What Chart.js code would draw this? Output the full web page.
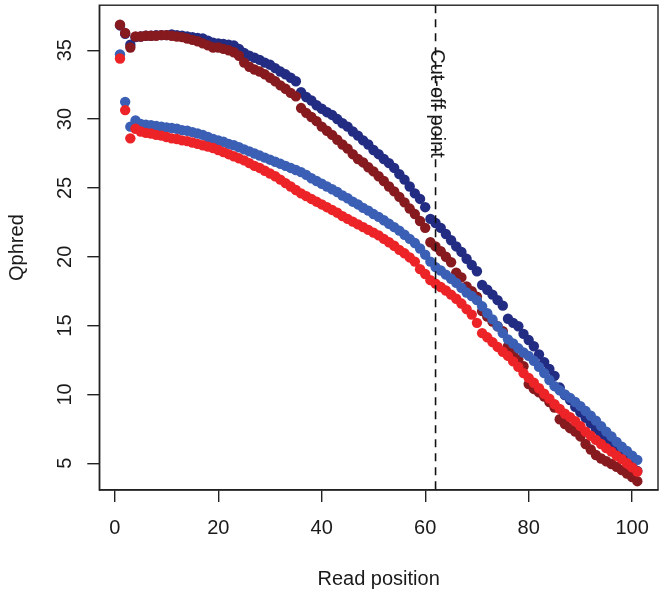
<!DOCTYPE html>
<html>
<head>
<meta charset="utf-8">
<script src="https://cdn.jsdelivr.net/npm/chart.js@4.4.1/dist/chart.umd.min.js"></script>
<style>
    body { margin: 0; background: #ffffff; overflow: hidden; }
    canvas { display: block; }
</style>
</head>
<body>
<canvas id="graficoCalidad" width="664" height="594"></canvas>
<script>
// POSICIONES DE LECTURA (EJE X)
var posiciones = [
    1, 2, 3, 4, 5, 6, 7, 8, 9, 10, 11, 12, 13, 14, 15, 16, 17, 18, 19, 20,
    21, 22, 23, 24, 25, 26, 27, 28, 29, 30, 31, 32, 33, 34, 35, 36, 37, 38, 39, 40,
    41, 42, 43, 44, 45, 46, 47, 48, 49, 50, 51, 52, 53, 54, 55, 56, 57, 58, 59, 60,
    61, 62, 63, 64, 65, 66, 67, 68, 69, 70, 71, 72, 73, 74, 75, 76, 77, 78, 79, 80,
    81, 82, 83, 84, 85, 86, 87, 88, 89, 90, 91, 92, 93, 94, 95, 96, 97, 98, 99, 100, 101
];

// SERIES (Qphred)
var azulOscuro = [
    36.8, 36.2, 35.4, 35.95, 36.0, 36.05, 36.05, 36.1, 36.1, 36.1, 36.15, 36.1, 36.05, 36.0, 35.95, 35.9, 35.85, 35.7, 35.55, 35.5,
    35.45, 35.4, 35.35, 35.1, 34.8, 34.6, 34.45, 34.3, 34.1, 33.95, 33.7, 33.45, 33.25, 33.0, 32.75, 31.95, 31.6, 31.35, 31.0, 30.75,
    30.5, 30.3, 30.0, 29.7, 29.45, 29.1, 28.8, 28.45, 28.15, 27.75, 27.45, 27.1, 26.8, 26.45, 26.0, 25.6, 25.1, 24.6, 24.2, 23.6,
    22.75, 22.45, 22.1, 21.65, 21.2, 20.75, 20.35, 19.85, 19.4, 18.95, 17.95, 17.6, 17.25, 16.85, 16.45, 15.5, 15.2, 14.95, 14.4, 13.95,
    13.5, 12.9, 12.35, 11.85, 11.35, 10.5, 9.95, 9.6, 9.1, 8.7, 8.3, 7.9, 7.5, 7.15, 6.8, 6.45, 6.05, 5.65, 5.25, 4.85, 4.45
];
var rojoOscuro = [
    36.85, 36.25, 35.2, 36.0, 36.0, 36.05, 36.05, 36.05, 36.1, 36.1, 36.05, 36.0, 35.95, 35.85, 35.75, 35.65, 35.5, 35.35, 35.2, 35.2,
    35.1, 35.0, 34.85, 34.6, 34.1, 33.8, 33.6, 33.45, 33.25, 33.0, 32.75, 32.45, 32.2, 31.9, 31.65, 30.8, 30.45, 30.15, 29.85, 29.45,
    29.15, 28.85, 28.5, 28.15, 27.85, 27.45, 27.1, 26.85, 26.5, 26.2, 25.85, 25.5, 25.1, 24.75, 24.35, 23.95, 23.5, 23.1, 22.6, 22.1,
    21.05, 20.75, 20.4, 20.0, 19.6, 18.85, 18.5, 17.85, 17.5, 17.1, 16.05, 15.65, 15.3, 14.95, 14.6, 13.5, 13.05, 12.55, 12.05, 10.75,
    10.4, 10.15, 9.85, 9.45, 9.05, 8.2, 7.85, 7.55, 7.3, 6.95, 6.4, 6.0, 5.6, 5.35, 5.15, 4.95, 4.75, 4.5, 4.25, 4.0, 3.7
];
var azul = [
    34.7, 31.25, 29.45, 29.9, 29.65, 29.6, 29.55, 29.5, 29.45, 29.4, 29.35, 29.3, 29.2, 29.15, 29.05, 28.95, 28.85, 28.7, 28.55, 28.45,
    28.35, 28.2, 28.1, 27.95, 27.8, 27.65, 27.5, 27.35, 27.2, 27.05, 26.9, 26.75, 26.6, 26.45, 26.3, 26.15, 25.95, 25.7, 25.5, 25.3,
    25.1, 24.9, 24.7, 24.45, 24.25, 24.0, 23.8, 23.55, 23.35, 23.1, 22.9, 22.65, 22.4, 22.15, 21.9, 21.6, 21.3, 21.0, 20.6, 20.15,
    19.65, 19.25, 19.0, 18.7, 18.4, 18.1, 17.75, 17.4, 17.15, 16.85, 16.4, 15.9, 15.45, 14.95, 14.45, 14.0, 13.7, 13.35, 13.05, 12.8,
    12.45, 12.0, 11.55, 11.05, 10.6, 10.3, 10.0, 9.75, 9.45, 9.15, 8.8, 8.45, 8.1, 7.7, 7.3, 6.95, 6.55, 6.2, 5.9, 5.55, 5.25
];
var rojo = [
    34.4, 30.65, 28.6, 29.3, 29.1, 29.0, 28.95, 28.85, 28.8, 28.7, 28.6, 28.55, 28.45, 28.4, 28.3, 28.2, 28.1, 28.0, 27.9, 27.75,
    27.6, 27.45, 27.3, 27.15, 27.0, 26.8, 26.6, 26.45, 26.25, 26.05, 25.85, 25.6, 25.35, 25.1, 24.85, 24.6, 24.4, 24.2, 24.0, 23.8,
    23.6, 23.4, 23.2, 22.95, 22.75, 22.55, 22.35, 22.15, 21.95, 21.75, 21.55, 21.3, 21.05, 20.8, 20.5, 20.25, 19.95, 19.65, 19.1, 18.75,
    18.3, 18.05, 17.8, 17.55, 17.25, 16.95, 16.6, 16.2, 15.8, 15.2, 14.45, 14.15, 13.8, 13.45, 13.1, 12.8, 12.4, 12.0, 11.55, 11.2,
    10.85, 10.45, 10.05, 9.7, 9.3, 8.95, 8.6, 8.35, 8.05, 7.7, 7.3, 7.0, 6.7, 6.4, 6.1, 5.85, 5.55, 5.3, 5.0, 4.7, 4.4
];

// TICKS Y PUNTO DE CORTE
var ticksX = [0, 20, 40, 60, 80, 100];
var ticksY = [5, 10, 15, 20, 25, 30, 35];
var puntoCorte = 62;

function puntos(valores) {
    return posiciones.map(function (p, i) {
        return { x: p, y: valores[i] };
    });
}

var fuente = '20px "Liberation Sans", Arial, sans-serif';
var colorTexto = '#1a1a1a';

// DIBUJAR CAJA, ETIQUETAS Y LINEA DE CORTE (ESTILO R)
var estiloR = {
    id: 'estiloR',
    afterDatasetsDraw: function (chart) {
        var c = chart.ctx;
        var area = chart.chartArea;
        var sx = chart.scales.x;

        // linea discontinua del punto de corte
        var xc = sx.getPixelForValue(puntoCorte);
        c.save();
        c.strokeStyle = '#111';
        c.lineWidth = 1.6;
        c.setLineDash([8, 6]);
        c.beginPath();
        c.moveTo(xc, area.top);
        c.lineTo(xc, area.bottom);
        c.stroke();
        c.restore();

        // texto vertical
        c.save();
        c.fillStyle = colorTexto;
        c.font = fuente;
        c.translate(xc + 1, area.top + 44);
        c.rotate(Math.PI / 2);
        c.textAlign = 'left';
        c.textBaseline = 'middle';
        c.fillText('Cut-off point', 0, 0);
        c.restore();
    },
    afterDraw: function (chart) {
        var c = chart.ctx;
        var area = chart.chartArea;
        var sx = chart.scales.x;
        var sy = chart.scales.y;

        c.save();
        c.strokeStyle = '#222';
        c.lineWidth = 1.4;
        c.strokeRect(area.left, area.top, area.right - area.left, area.bottom - area.top);

        c.fillStyle = colorTexto;
        c.font = fuente;

        // etiquetas eje X
        c.textAlign = 'center';
        c.textBaseline = 'middle';
        sx.ticks.forEach(function (t) {
            c.fillText(String(t.value), sx.getPixelForValue(t.value), 528);
        });

        // etiquetas eje Y (giradas)
        sy.ticks.forEach(function (t) {
            c.save();
            c.translate(65, sy.getPixelForValue(t.value));
            c.rotate(-Math.PI / 2);
            c.fillText(String(t.value), 0, 0);
            c.restore();
        });

        // titulos
        c.fillText('Read position', (area.left + area.right) / 2, 579);
        c.save();
        c.translate(17, (area.top + area.bottom) / 2);
        c.rotate(-Math.PI / 2);
        c.fillText('Qphred', 0, 0);
        c.restore();
        c.restore();
    }
};

var ctx = document.getElementById('graficoCalidad').getContext('2d');

var chart = new Chart(ctx, {
    type: 'scatter',
    data: {
        datasets: [{
            label: 'rojo',
            data: puntos(rojo),
            backgroundColor: '#ec2327'
        },
        {
            label: 'azul',
            data: puntos(azul),
            backgroundColor: '#3a5fb5'
        },
        {
            label: 'rojoOscuro',
            data: puntos(rojoOscuro),
            backgroundColor: '#861a1f'
        },
        {
            label: 'azulOscuro',
            data: puntos(azulOscuro),
            backgroundColor: '#232c83'
        }]
    },
    options: {
        responsive: false,
        animation: false,
        devicePixelRatio: 1,
        elements: {
            point: { radius: 5.2, borderWidth: 0, hoverRadius: 5.2 }
        },
        layout: {
            padding: { top: 5, right: 6, left: 0, bottom: 0 }
        },
        scales: {
            x: {
                type: 'linear',
                min: -3,
                max: 105,
                afterBuildTicks: function (scale) {
                    scale.ticks = ticksX.map(function (v) { return { value: v }; });
                },
                afterFit: function (scale) {
                    scale.height = 104;
                },
                ticks: { display: false },
                grid: {
                    drawOnChartArea: false,
                    drawTicks: true,
                    tickLength: 12,
                    color: '#222',
                    lineWidth: 1.4
                },
                border: { display: true, color: '#222', width: 1.4 }
            },
            y: {
                type: 'linear',
                min: 3.06,
                max: 38.27,
                afterBuildTicks: function (scale) {
                    scale.ticks = ticksY.map(function (v) { return { value: v }; });
                },
                afterFit: function (scale) {
                    scale.width = 99.3;
                },
                ticks: { display: false },
                grid: {
                    drawOnChartArea: false,
                    drawTicks: true,
                    tickLength: 12,
                    color: '#222',
                    lineWidth: 1.4
                },
                border: { display: true, color: '#222', width: 1.4 }
            }
        },
        plugins: {
            legend: { display: false },
            tooltip: { enabled: false }
        }
    },
    plugins: [estiloR]
});
</script>
</body>
</html>
